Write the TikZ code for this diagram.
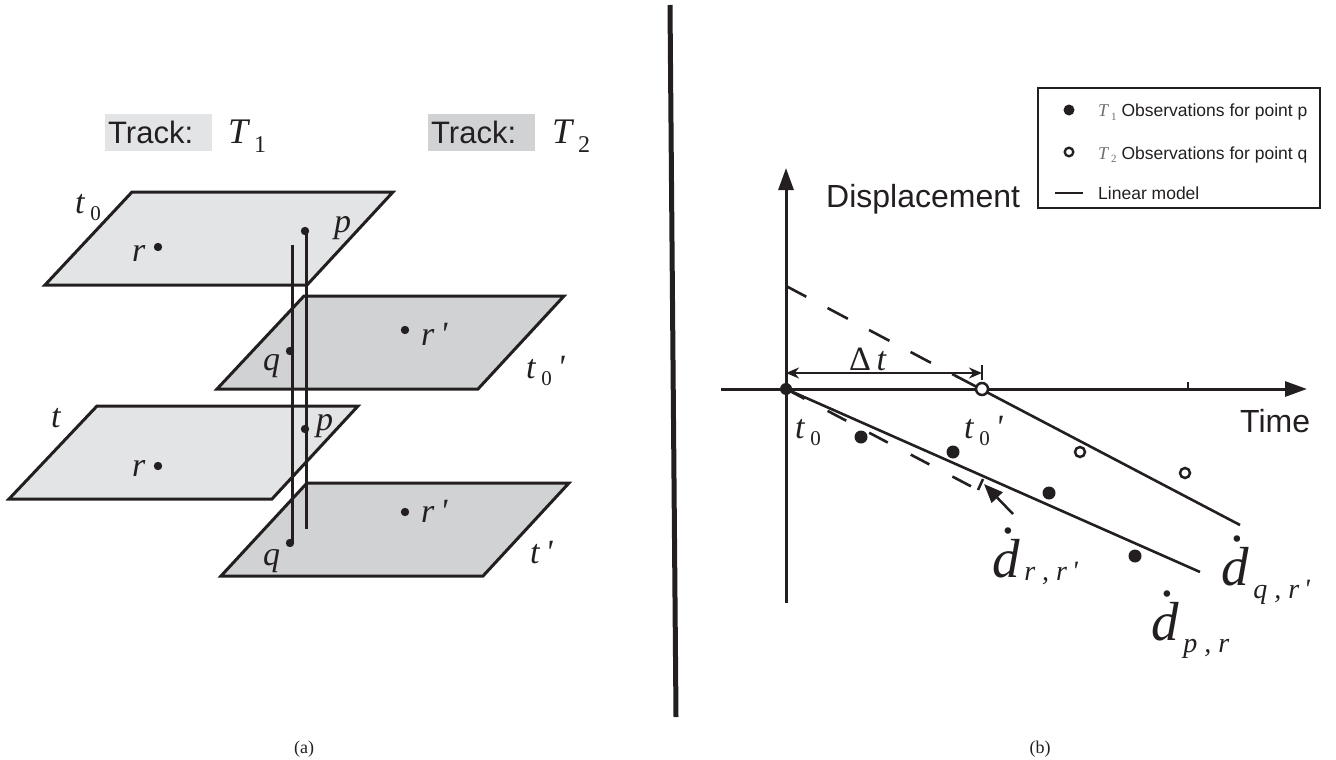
\documentclass[tikz,border=0pt]{standalone}
\usepackage{fontspec}
\setmainfont{Liberation Serif}
\setsansfont{Liberation Sans}
\usetikzlibrary{arrows.meta}
\definecolor{planeA}{HTML}{E3E4E6}
\definecolor{planeB}{HTML}{D1D2D4}
\definecolor{ink}{HTML}{231F20}
\definecolor{legT}{HTML}{6D6E71}
\newcommand{\setfs}[1]{\fontsize{#1}{#1}\selectfont}
\newcommand{\lowsub}[3][21]{\,\raisebox{-#2}{\setfs{#1}\upshape #3}}
\newcommand{\dotd}{\makebox[0pt][l]{\hspace{0.17em}\raisebox{0.8em}{\upshape .}}d}
\newcommand{\dsubtxt}[2]{\raisebox{-#1}{\setfs{28}\itshape #2}}
\begin{document}
\begin{tikzpicture}[x=1pt,y=-1pt,
  plane/.style={draw=ink, line width=3pt, line join=miter},
  track/.style={draw=ink, line width=3pt},
  axis/.style={draw=ink, line width=3pt, -{Triangle[length=22pt,width=15pt]}},
  model/.style={draw=ink, line width=2.6pt},
  dashmodel/.style={draw=ink, line width=2.6pt, dash pattern=on 23pt off 24pt},
  lab/.style={inner sep=0pt, anchor=base west, font=\setfs{34}\itshape, text=ink},
  sans/.style={inner sep=0pt, anchor=base west, font=\sffamily\setfs{32}, text=ink},
  legtxt/.style={inner sep=0pt, anchor=base west, font=\sffamily\setfs{17.5}, text=ink},
  trackbox/.style={inner xsep=3pt, inner ysep=0pt, anchor=west, minimum height=37pt, text width=101pt, align=left, font=\sffamily\setfs{31}, text=ink},
  bigd/.style={inner sep=0pt, anchor=base west, font=\setfs{55}\itshape, text=ink},
  capt/.style={inner sep=0pt, anchor=base, font=\setfs{18}, text=ink},
  dot/.style={fill=ink},
  odot/.style={draw=ink, fill=white, line width=2.5pt}
]
\useasboundingbox (0,0) rectangle (1336,760);

% ---------------- divider ----------------
\coordinate (divtop) at (670,5);
\coordinate (divbot) at (676,717);
\draw[ink, line width=5pt] (divtop) -- (divbot);

% ---------------- (a) ----------------
\node[trackbox, fill=planeA] (tb1) at (105,132.5) {Track:};
\node[lab, font=\setfs{36}\itshape] (T1) at (228,143) {T\lowsub[24]{9pt}{1}};
\node[trackbox, fill=planeB] (tb2) at (428,132.5) {Track:};
\node[lab, font=\setfs{36}\itshape] (T2) at (552,143) {T\lowsub[24]{9pt}{2}};

% planes
\draw[plane, fill=planeA] (132,192) -- (393,192) -- (307,285) -- (45,285) -- cycle;
\draw[plane, fill=planeB] (304,296) -- (564,296) -- (478,389) -- (217,389) -- cycle;
\draw[plane, fill=planeA] (97,406) -- (358,406) -- (272,499) -- (9,499) -- cycle;
\draw[plane, fill=planeB] (307,483) -- (569,483) -- (483,576) -- (221,576) -- cycle;

% points
\coordinate (p0) at (305,231);
\coordinate (r0) at (158,247);
\coordinate (q0) at (290,351);
\coordinate (rp0) at (405,330);
\coordinate (p1) at (305,429);
\coordinate (r1) at (158,466);
\coordinate (q1) at (290,543);
\coordinate (rp1) at (405,512);
\coordinate (qtop) at (292,245);
\coordinate (pbot) at (306,529);

% tracks
\draw[track] (qtop) -- (q1 -| qtop);
\draw[track] (p0 -| pbot) -- (pbot);

\foreach \c in {p0,r0,q0,rp0,p1,r1,q1,rp1} \fill[dot] (\c) circle (4.2pt);

% labels
\node[lab] (lt0) at (75,213) {t\lowsub{7pt}{0}};
\node[lab] (lr0) at (132,261) {r};
\node[lab] (lp0) at (334,232) {p};
\node[lab] (lrp0) at (421,345) {r\,\textquotesingle};
\node[lab] (lq0) at (263,370) {q};
\node[lab] (lt0p) at (526,378) {t\lowsub{7pt}{0}\,\textquotesingle};
\node[lab] (lt) at (51,427) {t};
\node[lab] (lp1) at (316,430) {p};
\node[lab] (lr1) at (132,476) {r};
\node[lab] (lrp1) at (421,522) {r\,\textquotesingle};
\node[lab] (lq1) at (263,565) {q};
\node[lab] (ltp) at (530,563) {t\,\textquotesingle};

\node[capt] (capa) at (304,753) {(a)};

% ---------------- (b) ----------------
\coordinate (O) at (786,389);
\coordinate (ybot) at (786,603);
\coordinate (ytop) at (786,168);
\coordinate (xleft) at (721,389);
\coordinate (xright) at (1307,389);
\draw[axis] (ybot) -- (ytop);
\draw[axis] (xleft) -- (xright);
\coordinate (tick) at (1188,389);
\draw[ink, line width=2pt] (tick) -- ++(0,-7);

\node[sans] (disp) at (826,207) {Displacement};
\node[sans] (time) at (1240,432) {Time};

% models
\coordinate (qy) at (786,286);
\coordinate (qs) at (954,375);
\coordinate (qend) at (1240,525);
\coordinate (pend) at (1200,572);
\coordinate (dend) at (978,490);
\draw[dashmodel] (qy) -- (qs);
\draw[model] (qs) -- (qend);
\draw[model] (O) -- (pend);
\draw[dashmodel, dash pattern=on 21pt off 26pt] (O) -- (dend);
\draw[ink, line width=2.5pt] (dend) -- ++(5,-11);

% delta t
\coordinate (dtl) at (786,373);
\coordinate (dtr) at (982,373);
\draw[ink, line width=2.5pt, {Stealth[length=13pt,width=11pt]}-{Stealth[length=13pt,width=11pt]}] (dtl) -- (dtr);
\draw[ink, line width=2.5pt] (982,365) -- (982,380);
\node[inner sep=0pt, anchor=base west, font=\setfs{34}, text=ink] (dt) at (849,370) {Δ\,\textit{t}};

% arrow to dashed end
\coordinate (arS) at (1013,514);
\coordinate (arE) at (984,484);
\draw[ink, line width=2.5pt, -{Triangle[length=19pt,width=15pt]}] (arS) -- (arE);

% observations
\foreach \x/\y in {861/437, 953/452, 1049/493, 1135/556} \fill[dot] (\x,\y) circle (6.5pt);
\fill[dot] (O) circle (6pt);
\coordinate (c0) at (982,389);
\foreach \x/\y in {1080/452, 1185/473} \draw[odot] (\x,\y) circle (5pt);
\draw[odot] (c0) circle (6pt);

% t labels
\node[lab] (rt0) at (795,438) {t\lowsub{7pt}{0}};
\node[lab] (rt0p) at (964,438) {t\lowsub{7pt}{0}\,\textquotesingle};

% derivative labels
\node[bigd] (drr) at (992,577) {\dotd\dsubtxt{3pt}{\,r , r\,\textquotesingle}};
\node[bigd] (dqr) at (1221,585) {\dotd\dsubtxt{13pt}{\,q , r\,\textquotesingle}};
\node[bigd] (dpr) at (1151,640) {\dotd\dsubtxt{12pt}{\,p , r}};

% legend
\draw[ink, line width=2.5pt] (1038,88) rectangle (1320,208);
\fill[dot] (1069,110) circle (5.5pt);
\node[legtxt] (l1) at (1098,117) {{\rmfamily\itshape\color{legT}\setfs{18}T\,\raisebox{-3pt}{\upshape\setfs{11}1}}\ Observations for point p};
\draw[odot, line width=2.3pt] (1069,152) circle (4.3pt);
\node[legtxt] (l2) at (1098,159) {{\rmfamily\itshape\color{legT}\setfs{18}T\,\raisebox{-3pt}{\upshape\setfs{11}2}}\ Observations for point q};
\coordinate (ll1) at (1055,193);
\coordinate (ll2) at (1083,193);
\draw[ink, line width=2.5pt] (ll1) -- (ll2);
\node[legtxt] (l3) at (1098,199) {Linear model};

\node[capt] (capb) at (1040,753) {(b)};
\end{tikzpicture}
\end{document}
